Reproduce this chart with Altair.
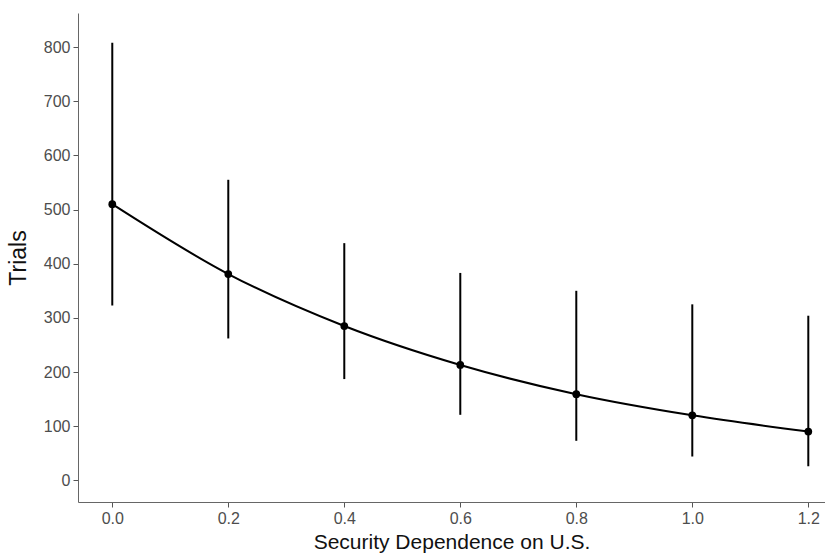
import altair as alt
import pandas as pd

dependence = [0.0, 0.2, 0.4, 0.6, 0.8, 1.0, 1.2]
trials = [510, 381, 285, 213, 159, 120, 90]
lower = [323, 262, 187, 121, 73, 44, 26]
upper = [808, 555, 438, 383, 350, 325, 304]

df = pd.DataFrame({"x": dependence, "y": trials, "lo": lower, "hi": upper})

xscale = alt.Scale(domain=[-0.0591, 1.2288], nice=False, zero=False)
yscale = alt.Scale(domain=[-40, 863], nice=False, zero=False)

xax = alt.Axis(title="Security Dependence on U.S.", values=dependence, format=".1f",
               grid=False, labelFontSize=16, titleFontSize=21, labelColor="#4d4d4d",
               titleColor="#111", domainColor="#666", tickColor="#555", tickSize=5,
               labelPadding=3, titlePadding=5, labelFont="Liberation Sans",
               titleFont="Liberation Sans", titleFontWeight="normal")
yax = alt.Axis(title="Trials", values=list(range(0, 801, 100)), grid=False,
               labelFontSize=16, titleFontSize=23, labelColor="#4d4d4d", titleColor="#111",
               domainColor="#666", tickColor="#555", tickSize=5, labelPadding=3,
               titlePadding=13, labelFont="Liberation Sans", titleFont="Liberation Sans",
               titleFontWeight="normal")

base = alt.Chart(df)
bars = base.mark_rule(color="black", strokeWidth=2).encode(
    x=alt.X("x:Q", scale=xscale, axis=xax),
    y=alt.Y("lo:Q", scale=yscale, axis=yax),
    y2="hi:Q",
)
line = base.mark_line(color="black", strokeWidth=2, interpolate="monotone").encode(
    x=alt.X("x:Q", scale=xscale), y=alt.Y("y:Q", scale=yscale)
)
pts = base.mark_circle(color="black", opacity=1, size=60).encode(
    x=alt.X("x:Q", scale=xscale), y=alt.Y("y:Q", scale=yscale)
)

chart = (bars + line + pts).properties(
    width=747, height=489,
    background="white",
    autosize=alt.AutoSizeParams(type="none"),
    padding={"left": 78, "top": 13, "right": 0, "bottom": 51},
).configure_view(strokeWidth=0, strokeOpacity=0)

chart.save("out.html", embed_options={"renderer": "svg", "actions": False})
